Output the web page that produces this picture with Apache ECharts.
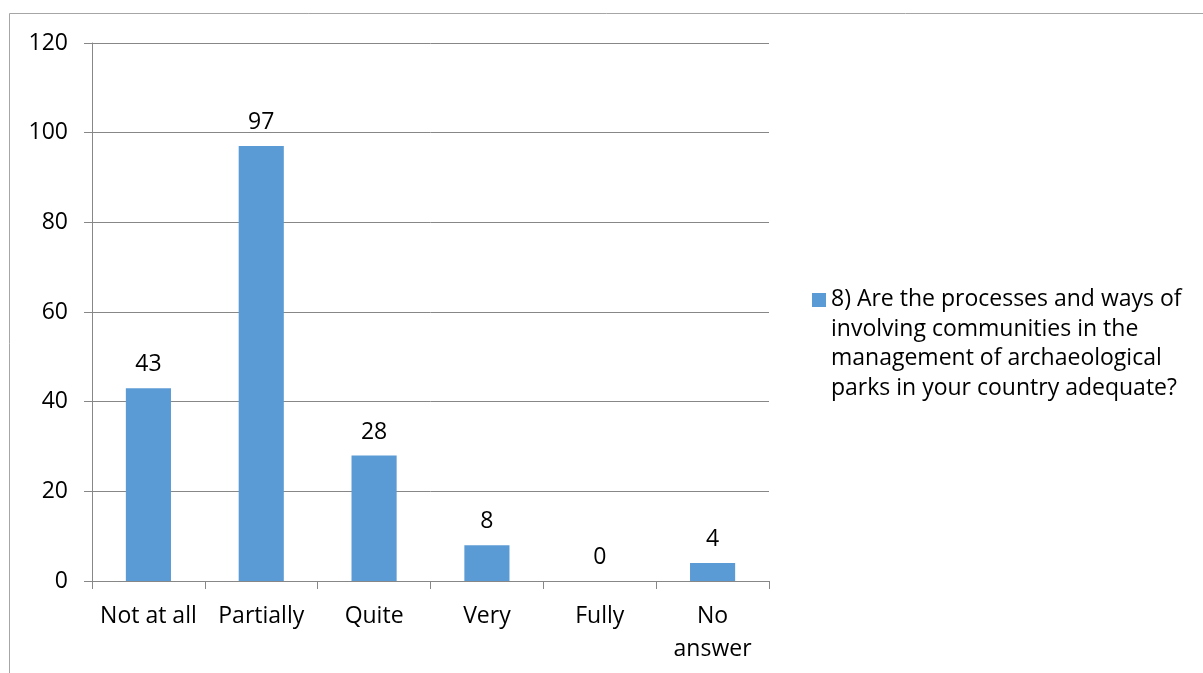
<!DOCTYPE html>
<html>
<head>
<meta charset="utf-8">
<script src="https://cdn.jsdelivr.net/npm/echarts@6/dist/echarts.min.js"></script>
<style>
html,body{margin:0;padding:0;background:#fff;}
#c{width:1203px;height:673px;}
</style>
</head>
<body>
<div id="c"></div>
<script>
const categories = ['Not at all', 'Partially', 'Quite', 'Very', 'Fully', 'No\nanswer'];
const values = [43, 97, 28, 8, 0, 4];
const seriesName = '8) Are the processes and ways of involving communities in the management of archaeological parks in your country adequate?';
const legendLines = ['8) Are the processes and ways of', 'involving communities in the', 'management of archaeological', 'parks in your country adequate?'];
const yTicks = [0, 20, 40, 60, 80, 100, 120];

const FONT = 'Open Sans';
const FS = 23;
const LH = 29.5;
const chart = echarts.init(document.getElementById('c'), null, {renderer: 'canvas'});
chart.setOption({
  animation: false,
  backgroundColor: '#fff',
  textStyle: {fontFamily: FONT},
  grid: {left: 92, right: 434, top: 43, bottom: 92, containLabel: false},
  graphic: [{
    type: 'rect',
    shape: {x: 9.5, y: 13.5, width: 1400, height: 900},
    style: {fill: 'none', stroke: '#a6a6a6', lineWidth: 1},
    silent: true, z: -10
  }],
  legend: {
    left: 812, top: 285,
    padding: 0,
    orient: 'vertical',
    itemWidth: 14, itemHeight: LH * 4,
    icon: 'path://M0,0 M0,8 L14,8 L14,22 L0,22 Z M14,118',
    formatter: () => legendLines.join('\n'),
    textStyle: {fontFamily: FONT, fontSize: FS, color: '#000', lineHeight: LH},
    itemGap: 0
  },
  xAxis: {
    type: 'category',
    data: categories,
    axisLine: {lineStyle: {color: '#878787', width: 1}},
    axisTick: {show: true, length: 8, lineStyle: {color: '#878787'}},
    axisLabel: {color: '#000', fontSize: FS, fontFamily: FONT, margin: 19, lineHeight: 33, interval: 0}
  },
  yAxis: {
    type: 'value',
    min: yTicks[0], max: yTicks[yTicks.length - 1], interval: 20,
    axisLine: {show: true, lineStyle: {color: '#878787', width: 1}},
    axisTick: {show: true, length: 8, lineStyle: {color: '#878787'}},
    splitLine: {show: true, lineStyle: {color: '#878787', width: 1}},
    axisLabel: {color: '#000', fontSize: FS, fontFamily: FONT, margin: 24}
  },
  series: [{
    name: seriesName,
    type: 'bar',
    data: values,
    barWidth: '40%',
    itemStyle: {color: '#5B9BD5'},
    label: {show: true, position: 'top', distance: 12, color: '#000', fontSize: FS, fontFamily: FONT}
  }]
});
</script>
</body>
</html>
